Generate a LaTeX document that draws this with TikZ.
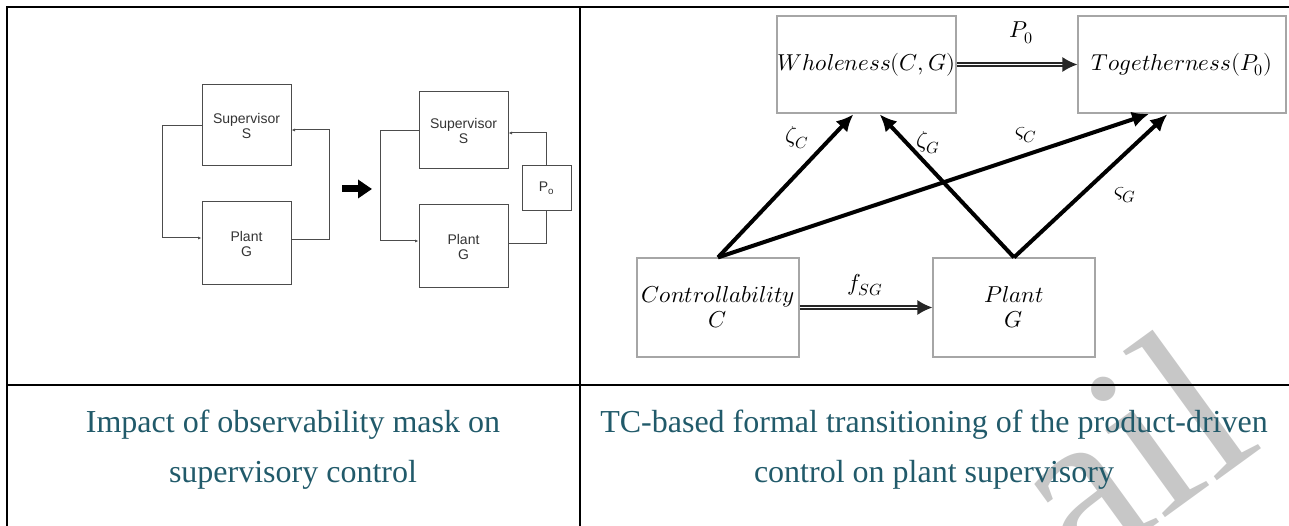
\documentclass[tikz,border=0pt]{standalone}
\usepackage{fontspec}
\usepackage{unicode-math}
\setmainfont{Liberation Serif}
\newfontfamily\arialfont{Liberation Sans}
\usetikzlibrary{arrows.meta,positioning,calc}
\definecolor{capteal}{HTML}{215A6A}

\begin{document}
\begin{tikzpicture}[x=1pt,y=-1pt,>=Latex,
 rule/.style={line width=2.6pt,black},
 blk/.style={draw=black!70,line width=1pt,font=\arialfont\fontsize{14}{15}\selectfont,text=black!80,align=center,inner sep=0pt},
 sig/.style={draw=black!70,line width=1pt,-{Latex[length=3.5pt,width=3pt]}},
 bigarrow/.style={line width=7pt,-{Triangle[length=14pt,width=18pt]}},
 mbox/.style={draw=black!35,line width=1.2pt,font=\fontsize{23}{25}\selectfont,align=center,inner sep=0pt},
 push/.style={line width=4pt,-{Latex[length=17pt,width=16pt]},shorten >=1pt},
 dbl/.style={draw=black!85,line width=1.5pt,double=white,double distance=1.5pt,-{Latex[length=15pt,width=15pt]}},
 lbl/.style={font=\fontsize{23}{25}\selectfont},
 captext/.style={font=\fontsize{32}{50}\selectfont,text=capteal,align=center}]
\useasboundingbox (0,0) rectangle (1289,526);
% watermark
\node[rotate=36,anchor=base west,inner sep=0pt,text=black!22,font=\fontsize{230}{230}\selectfont] (wm) at (1079,581) {ail};
% table rules
\draw[rule,line join=miter] (7,526) -- (7,7) -- (1289,7);
\draw[line width=2.2pt] (580,7) -- (580,526);
\draw[line width=2.2pt] (7,385) -- (1289,385);
% left panel: loop before and after
\node[blk,minimum width=89pt,minimum height=81pt] (S1) at (246.5,125.5) {Supervisor\\S};
\node[blk,minimum width=89pt,minimum height=83pt] (G1) at (246.5,243.5) {Plant\\G};
\draw[sig] (S1.west) -- ++(-39,0) |- ([yshift=5.5pt]G1.west);
\draw[sig] ([yshift=3.5pt]G1.east) -- ++(38,0) |- ([yshift=-4.5pt]S1.east);
\coordinate (bl) at (342,189);
\coordinate (br) at (372,189);
\draw[bigarrow] (bl) -- (br);
\node[blk,minimum width=89pt,minimum height=77pt] (S2) at (463.5,130.5) {Supervisor\\S};
\node[blk,minimum width=89pt,minimum height=83pt] (G2) at (463.5,246.5) {Plant\\G};
\node[blk,minimum width=49pt,minimum height=45pt] (P) at (546.5,188.5) {P\textsubscript{o}};
\draw[sig] (S2.west) -- ++(-38,0) |- ([yshift=5.5pt]G2.west);
\draw[draw=black!70,line width=1pt] ([yshift=2.5pt]G2.east) -| (P.south);
\draw[sig] (P.north) |- ([yshift=-2.5pt]S2.east);
% right panel: TC-based transitioning
\node[mbox,minimum width=179pt,minimum height=97pt] (W) at (866.5,64.5) {$Wholeness(C,G)$};
\node[mbox,minimum width=208pt,minimum height=97pt] (T) at (1182,64.5) {$Togetherness(P_0)$};
\node[mbox,minimum width=162pt,minimum height=99pt] (C) at (718,307.5) {$Controllability$\\$C$};
\node[mbox,minimum width=162pt,minimum height=99pt] (G) at (1014,307.5) {$Plant$\\$G$};
\draw[dbl] (W) -- (T);
\draw[dbl] (C) -- (G);
\node[lbl] (p0) at (1021,33) {$P_0$};
\node[lbl] (fsg) at (865,285) {$f_{SG}$};
\draw[push] (C.north) -- ([xshift=-12.5pt]W.south);
\draw[push] (G.north) -- ([xshift=12.5pt]W.south);
\draw[push] (C.north) -- ([xshift=-32pt]T.south);
\draw[push] (G.north) -- ([xshift=-14pt]T.south);
\node[lbl] (zc) at (797,138) {$\zeta_C$};
\node[lbl] (zg) at (928,143) {$\zeta_G$};
\node[lbl] (sc) at (1026,135) {$\varsigma_C$};
\node[lbl] (sg) at (1125,195) {$\varsigma_G$};
% captions
\node[captext] (capL) at (293,450) {Impact of observability mask on\\supervisory control};
\node[captext] (capR) at (934,450) {TC-based formal transitioning of the product-driven\\control on plant supervisory};
\end{tikzpicture}
\end{document}
